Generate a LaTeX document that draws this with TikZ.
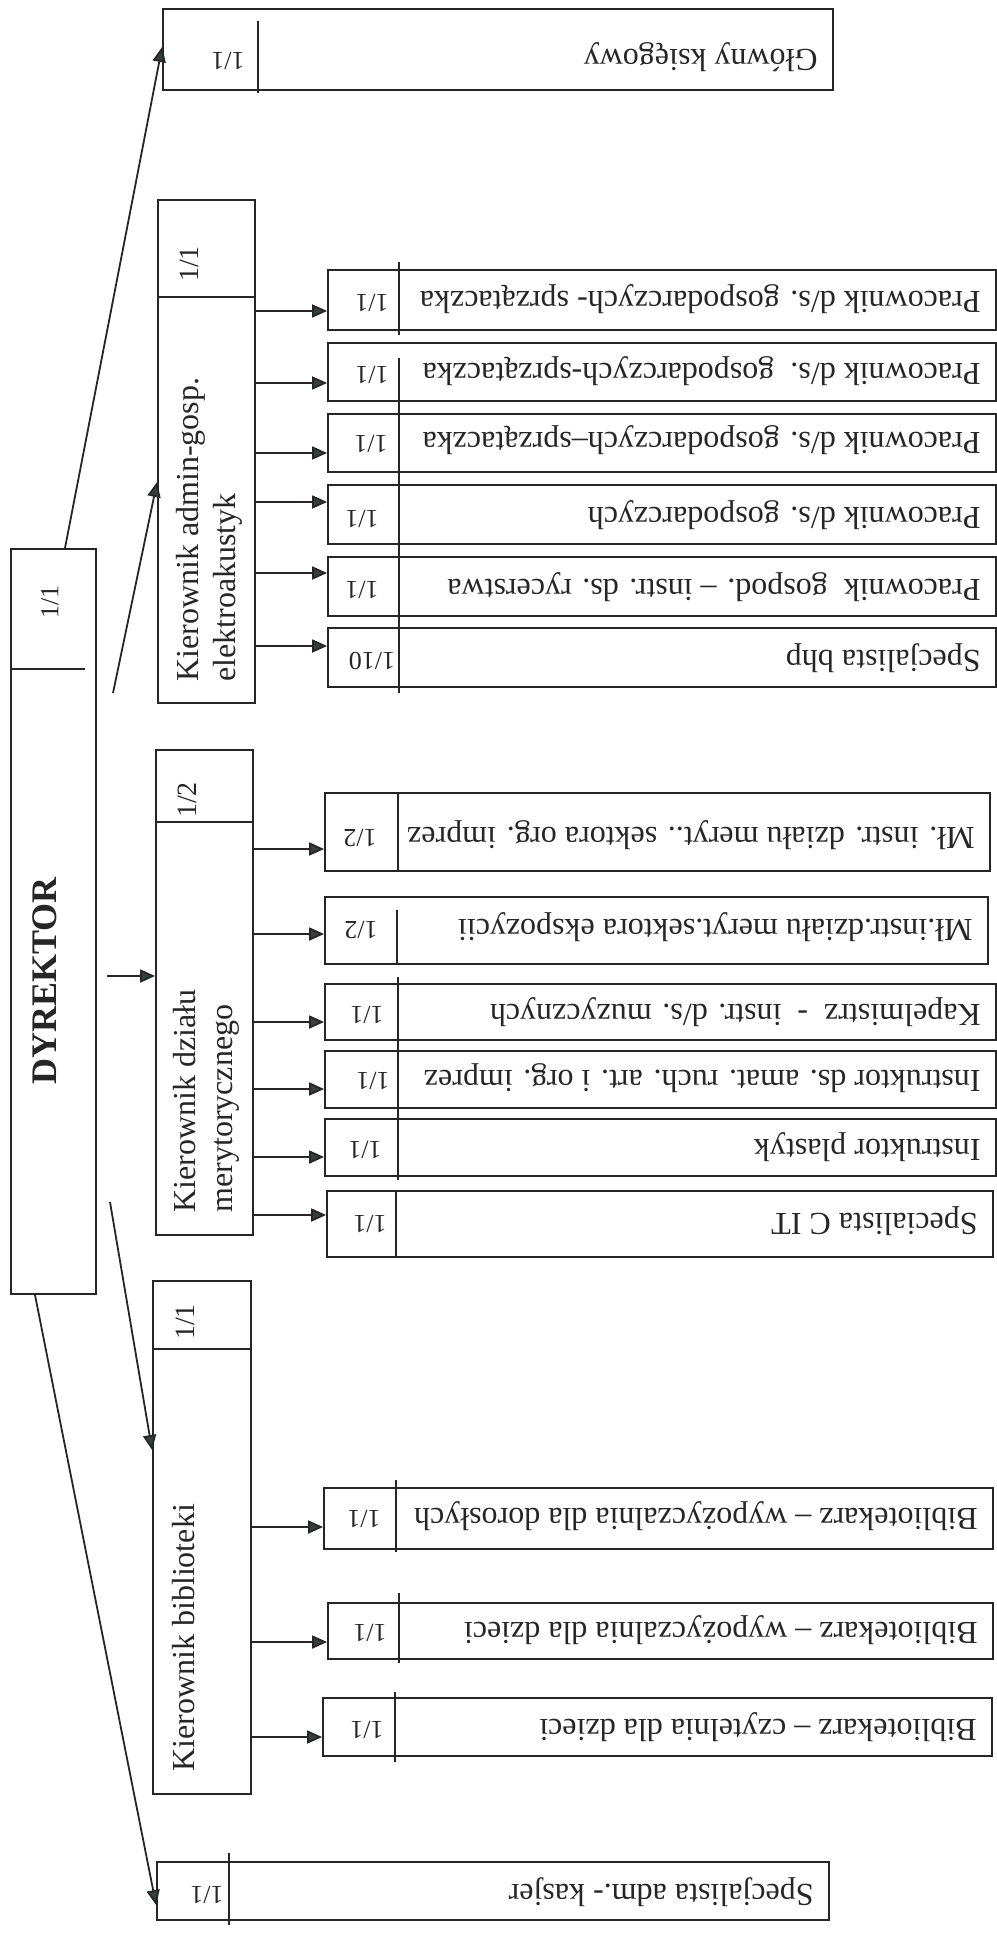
\documentclass[tikz,border=0pt]{standalone}
\usepackage{fontspec}
\setmainfont{Liberation Serif}
\usetikzlibrary{arrows.meta,fit}
\definecolor{ink}{HTML}{262626}
\definecolor{headc}{HTML}{334040}
\tikzset{
  box/.style={draw=ink, line width=0.9pt, inner sep=0pt},
  divl/.style={draw=ink, line width=0.9pt},
  arr/.style={draw=ink, line width=0.9pt, -{Triangle[length=7.5pt,width=6.5pt,fill=headc]}},
  numlbl/.style={rotate=180, inner sep=0pt, text=ink, font=\fontsize{13}{15}\selectfont},
  leaftxt/.style={rotate=180, anchor=base west, inner sep=0pt, text=ink, font=\fontsize{16}{19}\selectfont},
  headtxt/.style={rotate=90, anchor=north west, align=left, inner sep=0pt, text=ink, font=\fontsize{16}{18.5}\selectfont},
  headnum/.style={rotate=90, inner sep=0pt, text=ink, font=\fontsize{14}{16}\selectfont},
}
% name, x1, y1, x2, y2, numx, cy, num, text
\newcommand{\leafbox}[9]{%
  \node[box, fit={(#2,#3) (#4,#5)}] (#1) {};
  \node[numlbl] at (#6,#7) {#8};
  \node[leaftxt] at ({#4-15},{#7-11}) {#9};
}
\begin{document}
\begin{tikzpicture}[x=0.5pt,y=-0.5pt]
\useasboundingbox (0,0) rectangle (996,1936);
\fill[white] (0,0) rectangle (996,1936);

% DYREKTOR
\node[box, fit={(11,549) (96,1294)}] (dyr) {};
\draw[divl] (dyr.west |- 0,669) -- (85,669);
\node[headnum, font=\fontsize{13}{15}\selectfont] at (50,602) {1/1};
\node[rotate=90, inner sep=0pt, text=ink, font=\fontsize{18}{20}\bfseries] at (45,981) {DYREKTOR};

% Kierownicy
\node[box, fit={(158,200) (255,703)}] (kadm) {};
\draw[divl] (kadm.west |- 0,297) -- (kadm.east |- 0,297);
\node[headnum] at (189,264) {1/1};
\node[headtxt] at (176,682) {Kierownik admin-gosp.\\elektroakustyk};

\node[box, fit={(156,750) (253,1235)}] (kmer) {};
\draw[divl] (kmer.west |- 0,822) -- (kmer.east |- 0,822);
\node[headnum] at (187,800) {1/2};
\node[headtxt] at (173,1213) {Kierownik działu\\merytorycznego};

\node[box, fit={(153,1281) (251,1794)}] (kbib) {};
\draw[divl] (kbib.west |- 0,1349) -- (kbib.east |- 0,1349);
\node[headnum] at (185,1322) {1/1};
\node[headtxt] at (172,1772) {Kierownik biblioteki};

% Glowny ksiegowy
\leafbox{glow}{163}{9}{833}{90}{228}{61}{1/1}{Główny księgowy}
\draw[divl] (258,21) -- (258,93);

% Specjalista adm.- kasjer
\leafbox{kasj}{157}{1862}{829}{1920}{207}{1895}{1/1}{Specjalista adm.- kasjer}
\draw[divl] (229,1853) -- (229,1925);

% admin group
\leafbox{a1}{328}{270}{996}{330}{372}{303}{1/1}{Pracownik d/s. gospodarczych- sprzątaczka}
\leafbox{a2}{328}{343}{996}{401}{372}{375}{1/1}{Pracownik d/s.\ \ gospodarczych-sprzątaczka}
\leafbox{a3}{328}{414}{996}{472}{371}{444}{1/1}{Pracownik d/s. gospodarczych–sprzątaczka}
\leafbox{a4}{328}{485}{996}{544}{362}{519}{1/1}{Pracownik d/s. gospodarczych}
\leafbox{a5}{328}{557}{996}{616}{362}{590}{1/1}{Pracownik\ \ gospod. – instr. ds. rycerstwa}
\leafbox{a6}{328}{628}{996}{687}{372}{661}{1/10}{Specjalista bhp}
\draw[divl] (399,262) -- (399,335);
\draw[divl] (399,358) -- (399,693);
\draw[arr] (kadm.east |- 0,311) -- (a1.west |- 0,311);
\draw[arr] (kadm.east |- 0,383) -- (a2.west |- 0,383);
\draw[arr] (kadm.east |- 0,453) -- (a3.west |- 0,453);
\draw[arr] (kadm.east |- 0,502) -- (a4.west |- 0,502);
\draw[arr] (kadm.east |- 0,573) -- (a5.west |- 0,573);
\draw[arr] (kadm.east |- 0,646) -- (a6.west |- 0,646);

% merytoryczny group
\leafbox{m1}{325}{793}{990}{871}{360}{838}{1/2}{Mł. instr. działu meryt.. sektora org. imprez}
\leafbox{m2}{325}{897}{988}{964}{361}{930}{1/2}{Mł.instr.działu meryt.sektora ekspozycii}
\leafbox{m3}{325}{984}{996}{1040}{367}{1015}{1/1}{Kapelmistrz\ \ -\ \ instr. d/s. muzycznych}
\leafbox{m4}{325}{1051}{996}{1108}{373}{1081}{1/1}{Instruktor ds. amat. ruch. art. i org. imprez}
\leafbox{m5}{325}{1119}{996}{1176}{365}{1150}{1/1}{Instruktor plastyk}
\leafbox{m6}{327}{1191}{993}{1257}{370}{1224}{1/1}{Specialista C IT}
\draw[divl] (398,793) -- (398,871);
\draw[divl] (397,910) -- (397,964);
\draw[divl] (398,977) -- (398,1180);
\draw[divl] (396,1191) -- (396,1257);
\draw[arr] (kmer.east |- 0,849) -- (m1.west |- 0,849);
\draw[arr] (kmer.east |- 0,934) -- (m2.west |- 0,934);
\draw[arr] (kmer.east |- 0,1022) -- (m3.west |- 0,1022);
\draw[arr] (kmer.east |- 0,1089) -- (m4.west |- 0,1089);
\draw[arr] (kmer.east |- 0,1157) -- (m5.west |- 0,1157);
\draw[arr] (kmer.east |- 0,1215) -- (m6.west |- 0,1215);

% biblioteka group
\leafbox{b1}{324}{1488}{993}{1549}{364}{1519}{1/1}{Bibliotekarz – wypożyczalnia dla dorosłych}
\leafbox{b2}{328}{1603}{993}{1659}{370}{1633}{1/1}{Bibliotekarz – wypożyczalnia dla dzieci}
\leafbox{b3}{323}{1698}{992}{1756}{367}{1730}{1/1}{Bibliotekarz – czytelnia dla dzieci}
\draw[divl] (396,1480) -- (396,1552);
\draw[divl] (399,1593) -- (399,1663);
\draw[divl] (395,1692) -- (395,1762);
\draw[arr] (kbib.east |- 0,1527) -- (b1.west |- 0,1527);
\draw[arr] (kbib.east |- 0,1642) -- (b2.west |- 0,1642);
\draw[arr] (kbib.east |- 0,1737) -- (b3.west |- 0,1737);

% arrows from DYREKTOR
\coordinate (s1) at (dyr.north -| 65,0);
\coordinate (s2) at (113,693);
\coordinate (s3) at (107,976);
\coordinate (s4) at (110,1202);
\coordinate (s5) at (dyr.south -| 35,0);
\draw[arr] (s1) -- (glow.west |- 0,47);
\draw[arr] (s2) -- (kadm.west |- 0,482);
\draw[arr] (s3) -- (kmer.west |- 0,976);
\draw[arr] (s4) -- (kbib.west |- 0,1450);
\draw[arr] (s5) -- (kasj.west |- 0,1905);
\end{tikzpicture}
\end{document}
